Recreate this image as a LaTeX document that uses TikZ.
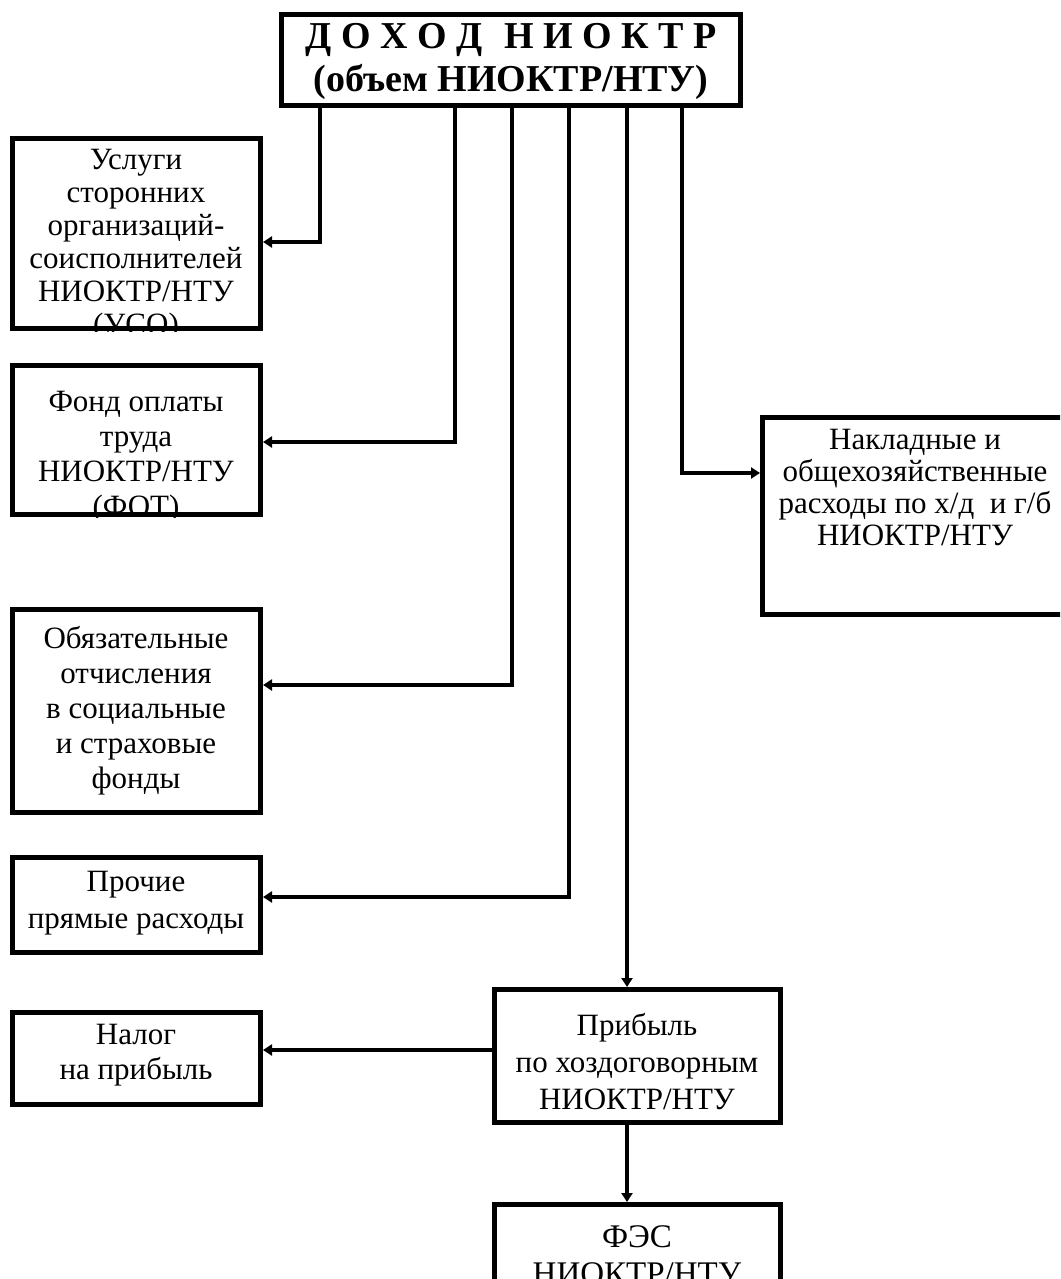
\documentclass[tikz,border=0pt]{standalone}
\usepackage{fontspec}
\setmainfont{Liberation Serif}
\usetikzlibrary{arrows.meta}
\tikzset{
  boxst/.style={draw, line width=5pt, inner sep=0pt},
  txt/.style={align=center, inner sep=0pt, font=\fontsize{31}{34}\selectfont},
  conn/.style={line width=4pt},
  arr/.style={conn, -{Triangle[length=9pt,width=11pt]}},
}
\newcommand\mkbox[5]{\node[boxst, minimum width={#3-#2-5}, minimum height={#5-#4-5}] (#1) at ({(#2+#3)/2},{(#4+#5)/2}) {};}
\begin{document}
\begin{tikzpicture}[x=1pt,y=-1pt]
\useasboundingbox (0,0) rectangle (1060,1279);
\clip (0,0) rectangle (1060,1279);
\fill[white] (0,0) rectangle (1060,1279);
% boxes
\mkbox{top}{279}{743}{12}{108}
\mkbox{b1}{10}{263}{136}{331}
\mkbox{b2}{10}{263}{363}{517}
\mkbox{b3}{10}{263}{607}{815}
\mkbox{b4}{10}{263}{855}{955}
\mkbox{b5}{10}{263}{1010}{1107}
\mkbox{rb}{760}{1072}{415}{617}
\mkbox{pr}{492}{783}{987}{1125}
\mkbox{fes}{492}{783}{1202}{1300}
% texts
\node[txt, font=\bfseries\fontsize{38}{43}\selectfont] (ttop) at (511,61)
  {Д О Х О Д\hspace{22pt}Н И О К Т Р\\(объем НИОКТР/НТУ)};
\begin{scope}
  \clip (b1.north west) rectangle (b1.south east);
  \node[txt, font=\fontsize{31}{33}\selectfont] (t1) at (136,245)
    {Услуги\\сторонних\\организаций-\\соисполнителей\\НИОКТР/НТУ\\(УСО)};
\end{scope}
\begin{scope}
  \clip (b2.north west) rectangle (b2.south east);
  \node[txt, font=\fontsize{31}{35}\selectfont] (t2) at (136,457)
    {Фонд оплаты\\труда\\НИОКТР/НТУ\\(ФОТ)};
\end{scope}
\node[txt, font=\fontsize{31}{35}\selectfont] (t3) at (136,711)
  {Обязательные\\отчисления\\в социальные\\и страховые\\фонды};
\node[txt, font=\fontsize{31}{37}\selectfont] (t4) at (136,903)
  {Прочие\\прямые расходы};
\node[txt, font=\fontsize{31}{35}\selectfont] (t5) at (136,1055)
  {Налог\\на прибыль};
\node[txt, font=\fontsize{31}{32}\selectfont] (t6) at (915,487)
  {Накладные и\\общехозяйственные\\расходы по х/д\ \ и г/б\\НИОКТР/НТУ};
\node[txt, font=\fontsize{31}{37}\selectfont] (t7) at (637,1062)
  {Прибыль\\по хоздоговорным\\НИОКТР/НТУ};
\begin{scope}
  \clip (fes.north west) rectangle (fes.south east);
  \node[txt, font=\fontsize{33}{37}\selectfont] (t8) at (637,1255)
    {ФЭС\\НИОКТР/НТУ};
\end{scope}
% connectors
\draw[arr] (top.south -| 320,0) |- (b1.east |- 0,242);
\draw[arr] (top.south -| 455,0) |- (b2.east |- 0,442);
\draw[arr] (top.south -| 512,0) |- (b3.east |- 0,685);
\draw[arr] (top.south -| 569,0) |- (b4.east |- 0,897);
\draw[arr] (top.south -| 627,0) -- (pr.north -| 627,0);
\draw[arr] (top.south -| 682,0) |- (rb.west |- 0,473);
\draw[arr] (pr.west |- 0,1050) -- (b5.east |- 0,1050);
\draw[arr] (pr.south -| 627,0) -- (fes.north -| 627,0);
\end{tikzpicture}
\end{document}
